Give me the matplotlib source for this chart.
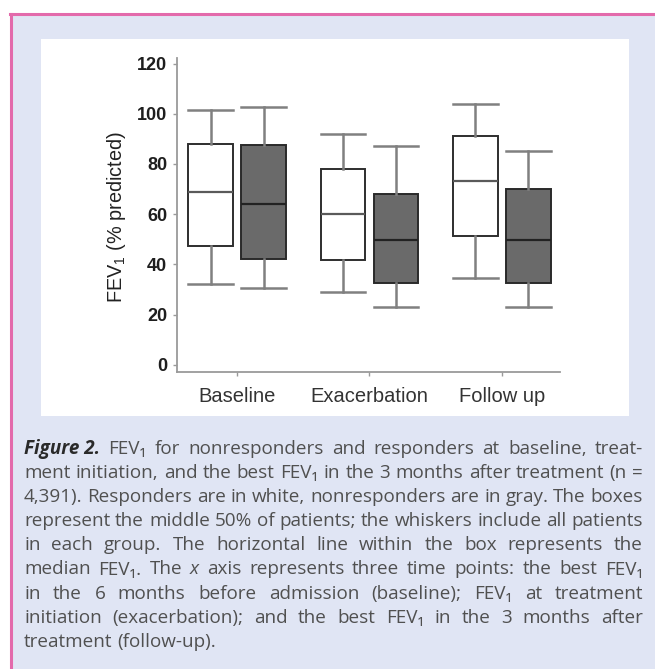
import matplotlib
matplotlib.use("Agg")
import matplotlib.pyplot as plt
from matplotlib.patches import Rectangle

# --- data (FEV1, % predicted)
groups = ["Baseline", "Exacerbation", "Follow up"]

resp_low = [32.3, 29.0, 34.8]
resp_q1 = [47.4, 41.6, 51.2]
resp_med = [68.7, 60.2, 73.1]
resp_q3 = [88.0, 78.1, 91.3]
resp_high = [101.4, 92.0, 103.9]

nonresp_low = [30.6, 23.1, 22.9]
nonresp_q1 = [42.1, 32.6, 32.6]
nonresp_med = [63.9, 49.7, 49.7]
nonresp_q3 = [87.6, 68.2, 70.2]
nonresp_high = [102.7, 87.3, 85.3]

yticks = [0, 20, 40, 60, 80, 100, 120]

caption_lines = [
    "Figure\u00a02.  FEV\u2081 for nonresponders and responders at baseline, treat-",
    "ment initiation, and the best FEV\u2081 in the 3 months after treatment (n =",
    "4,391). Responders are in white, nonresponders are in gray. The boxes",
    "represent the middle 50% of patients; the whiskers include all patients",
    "in each group. The horizontal line within the box represents the",
    "median FEV\u2081. The x axis represents three time points: the best FEV\u2081",
    "in the 6 months before admission (baseline); FEV\u2081 at treatment",
    "initiation (exacerbation); and the best FEV\u2081 in the 3 months after",
    "treatment (follow-up).",
]

W, H = 655, 669
fig = plt.figure(figsize=(W / 100, H / 100), dpi=100)
fig.patch.set_facecolor("white")


def fx(px):
    return px / W


def fy(py):
    return 1 - py / H


# -- page decoration: lavender box with pink border, white panel
fig.patches.append(Rectangle((fx(11), 0), 1 - fx(11), fy(14), transform=fig.transFigure,
                             facecolor="#e0e5f4", edgecolor="none", zorder=-3))
fig.patches.append(Rectangle((fx(41), fy(416)), fx(629 - 41), (416 - 39) / H,
                             transform=fig.transFigure, facecolor="white",
                             edgecolor="none", zorder=-2))
fig.add_artist(plt.Line2D([fx(11), fx(11)], [0, fy(14)], color="#e36aab", lw=2.2,
                          transform=fig.transFigure, zorder=-1))
fig.add_artist(plt.Line2D([fx(10), 1], [fy(14), fy(14)], color="#e36aab", lw=2.2,
                          transform=fig.transFigure, zorder=-1))

# -- chart
ax = fig.add_axes([fx(177), fy(371.7), fx(560 - 177), (371.7 - 58.5) / H])
ax.set_facecolor("none")

positions = [1, 2, 3]
off = 0.2
bw = 0.335


def stats(low, q1, med, q3, high):
    return [dict(whislo=a, q1=b, med=c, q3=d, whishi=e, fliers=[])
            for a, b, c, d, e in zip(low, q1, med, q3, high)]


common = dict(widths=bw, capwidths=bw, showfliers=False, patch_artist=True,
              whiskerprops=dict(color="#808080", lw=1.8),
              capprops=dict(color="#808080", lw=1.8))

ax.bxp(stats(resp_low, resp_q1, resp_med, resp_q3, resp_high),
       positions=[p - off for p in positions],
       boxprops=dict(facecolor="white", edgecolor="#2e2e2e", lw=1.4),
       medianprops=dict(color="#5a5a5a", lw=1.6), **common)
ax.bxp(stats(nonresp_low, nonresp_q1, nonresp_med, nonresp_q3, nonresp_high),
       positions=[p + off for p in positions],
       boxprops=dict(facecolor="#6a6a6a", edgecolor="#2a2a2a", lw=1.4),
       medianprops=dict(color="#222222", lw=1.6), **common)

ax.set_xlim(0.547, 3.438)
ax.set_ylim(-2.7, 122)
ax.set_yticks(yticks)
ax.set_yticklabels([str(v) for v in yticks], fontsize=13, fontweight="bold",
                   family="Liberation Sans", color="#1e1e1e")
ax.set_xticks(positions)
ax.set_xticklabels(groups, fontsize=14.5, family="Liberation Sans", color="#333333")
ax.tick_params(axis="both", direction="out", length=3, width=1, color="#9a9a9a")
ax.tick_params(axis="y", pad=4)
ax.tick_params(axis="x", pad=8)
for side in ["top", "right"]:
    ax.spines[side].set_visible(False)
for side in ["left", "bottom"]:
    ax.spines[side].set_color("#9a9a9a")
    ax.spines[side].set_linewidth(1.3)

plt.rcParams["mathtext.default"] = "regular"
fig.text(fx(117), fy(217), "FEV$_1$ (% predicted)", rotation=90, ha="center",
         va="center", fontsize=14.3, family="Liberation Sans", color="#222222")

# -- justified caption
renderer = fig.canvas.get_renderer()
x0, x1 = 24, 643
y0, step = 449, 24.1
cap_size = 13.6
fams = ["Open Sans", "DejaVu Sans"]
for i, line in enumerate(caption_lines):
    words = [w for w in line.split(" ") if w]
    texts = []
    for w in words:
        kw = dict(fontsize=cap_size, family=fams, color="#505050", va="center", ha="left")
        if w.startswith("Figure"):
            kw.update(style="italic", fontweight="bold", color="#2a2a2a")
        elif w == "x":
            kw.update(style="italic")
        texts.append(fig.text(0, fy(y0 + i * step), w.replace("\u00a0", " "), **kw))
    widths = [t.get_window_extent(renderer).width for t in texts]
    if i == len(caption_lines) - 1:
        gap = cap_size * 100 / 72 * 0.26
    else:
        gap = (x1 - x0 - sum(widths)) / (len(texts) - 1)
    x = x0
    for t, wd in zip(texts, widths):
        t.set_x(fx(x))
        x += wd + gap

fig.savefig("out.png", dpi=100)
